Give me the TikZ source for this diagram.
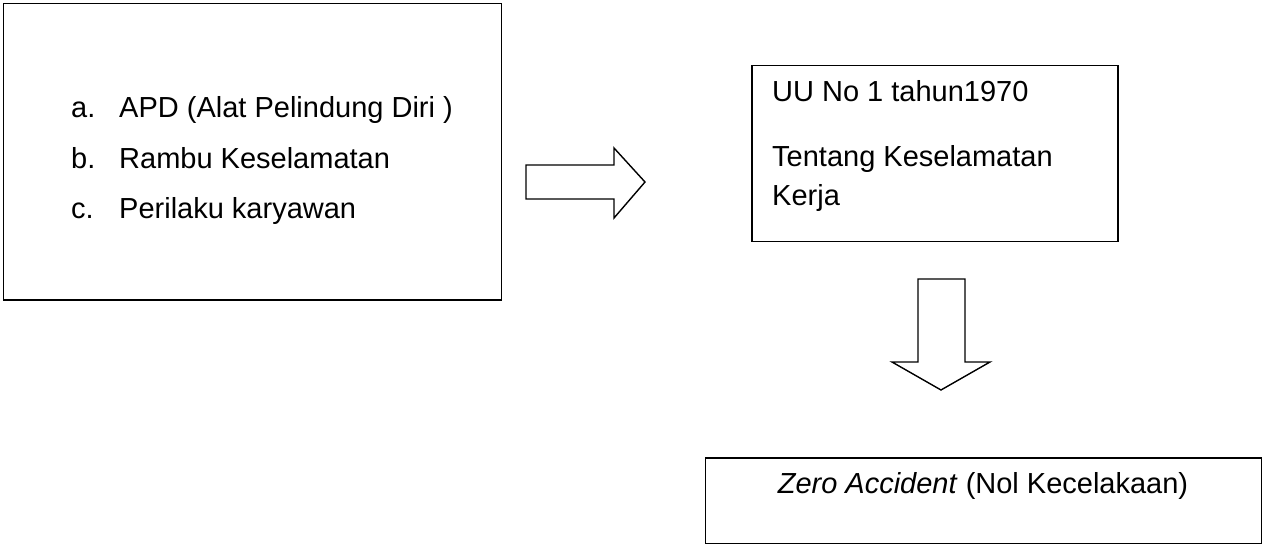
\documentclass[tikz,border=0pt]{standalone}
\usepackage{fontspec}
\setmainfont{Liberation Sans}
\begin{document}
\begin{tikzpicture}[x=1pt,y=-1pt,
  boxline/.style={draw=black,line width=1.8pt,inner sep=0pt,anchor=north west},
  txt/.style={anchor=base west,inner sep=0pt,font=\fontsize{29}{34}\selectfont},
  blockarrow/.style={draw=black,line width=1.4pt,fill=white,line join=miter}]
\useasboundingbox (0,0) rectangle (1262,544);
% boxes
\node[boxline,minimum width=498pt,minimum height=296.5pt] (box1) at (2.5,2.5) {};
\node[boxline,minimum width=366pt,minimum height=176pt] (box2) at (751,64.5) {};
\node[boxline,minimum width=556pt,minimum height=85.5pt] (box3) at (704.5,457) {};
% list in box1
\node[txt] (la) at (71,117) {a.};
\node[txt] (ta) at (119,117) {APD (Alat Pelindung Diri )};
\node[txt] (lb) at (71,168) {b.};
\node[txt] (tb) at (119,168) {Rambu Keselamatan};
\node[txt] (lc) at (71,218) {c.};
\node[txt] (tc) at (119,218) {Perilaku karyawan};
% box2 text
\node[txt] (t1) at (772,101.5) {UU No 1 tahun1970};
\node[txt] (t2) at (772,166.5) {Tentang Keselamatan};
\node[txt] (t3) at (772,205) {Kerja};
% box3 text
\node[txt,anchor=base] (t4) at (983,493) {\textit{Zero Accident} (Nol Kecelakaan)};
% right block arrow
\draw[blockarrow] (526,165) -- (614,165) -- (614,148) -- (645,182) -- (614,218) -- (614,199) -- (526,199) -- cycle;
% down block arrow
\draw[blockarrow] (918,279) -- (965,279) -- (965,362) -- (990,362) -- (941,390) -- (892,362) -- (918,362) -- cycle;
\end{tikzpicture}
\end{document}
